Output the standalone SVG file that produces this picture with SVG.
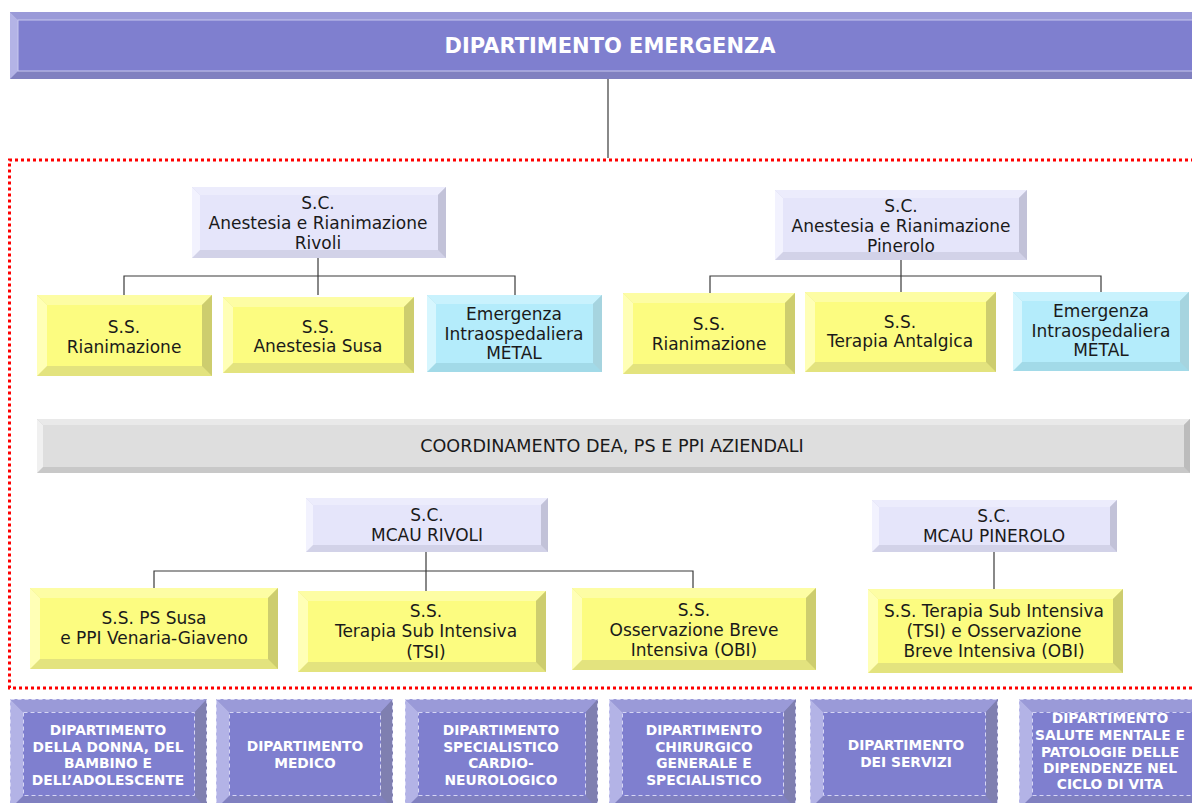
<svg xmlns="http://www.w3.org/2000/svg" width="1192" height="803" viewBox="0 0 1192 803">
<style>
text{font-family:"DejaVu Sans","Liberation Sans",sans-serif;text-anchor:middle;fill:#1a1a1a;font-size:17px}
.w{fill:#ffffff;font-weight:bold;font-size:13.8px}
.title{fill:#ffffff;font-weight:bold;font-size:21px}
.cb{font-size:17.6px}
.conn{stroke:#3a3a3a;stroke-width:1.2;fill:none}
.y .f{fill:#fcfc80}.y .t{fill:#fdfda4}.y .l{fill:#ffffb6}.y .r{fill:#cdcd6e}.y .b{fill:#e3e37e}
.c .f{fill:#b4ecfb}.c .t{fill:#c9f2fd}.c .l{fill:#d6f6fe}.c .r{fill:#a6d4df}.c .b{fill:#a2dae8}
.v .f{fill:#e5e5fa}.v .t{fill:#ececfc}.v .l{fill:#f2f2fe}.v .r{fill:#c2c2d8}.v .b{fill:#d2d2e8}
.g .f{fill:#dedede}.g .t{fill:#e9e9e9}.g .l{fill:#f0f0f0}.g .r{fill:#bcbcbc}.g .b{fill:#c8c8c8}
.p .f{fill:#7f7fcf}.p .t{fill:#9a9ad8}.p .l{fill:#b3b3e6}.p .r{fill:#7f7fb0}.p .b{fill:#8080c0}
.d{fill:none;stroke:#d6d6f4;stroke-width:1;stroke-dasharray:4 3}
</style>

<!-- top banner -->
<g id="dip-emergenza" class="p">
<rect class="b" x="10" y="12" width="1190" height="67"/>
<polygon class="t" points="10,12 1200,12 1192,20 18,20"/>
<polygon class="l" points="10,12 18,20 18,71 10,79"/>
<rect class="f" x="18" y="20" width="1182" height="51" stroke="#c8c8ee" stroke-width="1"/>
<text class="title" x="610" y="53">DIPARTIMENTO EMERGENZA</text>
</g>

<!-- red dotted frame -->
<path d="M1200,160 H9.5 V688 H1200" fill="none" stroke="#ff0000" stroke-width="3" stroke-dasharray="3 3"/>

<g id="connectors">
<path class="conn" d="M608,79 V158"/>
<path class="conn" d="M318,258 V295 M124,295 V276 H515 V295"/>
<path class="conn" d="M901,260 V292 M710,293 V276 H1101 V292"/>
<path class="conn" d="M426,552 V591 M154,588 V571 H693 V588"/>
<path class="conn" d="M994,552 V589"/>
</g>

<g id="sc-anestesia-rivoli" class="v">
<rect class="b" x="192" y="187" width="254" height="71"/>
<polygon class="t" points="192,187 446,187 438,195 200,195"/>
<polygon class="l" points="192,187 200,195 200,250 192,258"/>
<polygon class="r" points="446,187 446,258 438,250 438,195"/>
<rect class="f" x="200" y="195" width="238" height="55"/>
<text x="318" y="209">S.C.</text><text x="318" y="229">Anestesia e Rianimazione</text><text x="318" y="249">Rivoli</text>
</g>

<g id="sc-anestesia-pinerolo" class="v">
<rect class="b" x="775" y="190" width="252" height="70"/>
<polygon class="t" points="775,190 1027,190 1019,198 783,198"/>
<polygon class="l" points="775,190 783,198 783,252 775,260"/>
<polygon class="r" points="1027,190 1027,260 1019,252 1019,198"/>
<rect class="f" x="783" y="198" width="236" height="54"/>
<text x="901" y="212">S.C.</text><text x="901" y="232">Anestesia e Rianimazione</text><text x="901" y="252">Pinerolo</text>
</g>

<g id="ss-rianimazione-rivoli" class="y">
<rect class="b" x="37" y="295" width="175" height="81"/>
<polygon class="t" points="37,295 212,295 202,305 47,305"/>
<polygon class="l" points="37,295 47,305 47,366 37,376"/>
<polygon class="r" points="212,295 212,376 202,366 202,305"/>
<rect class="f" x="47" y="305" width="155" height="61"/>
<text x="124" y="333">S.S.</text><text x="124" y="353">Rianimazione</text>
</g>

<g id="ss-anestesia-susa" class="y">
<rect class="b" x="223" y="297" width="191" height="76"/>
<polygon class="t" points="223,297 414,297 404,307 233,307"/>
<polygon class="l" points="223,297 233,307 233,363 223,373"/>
<polygon class="r" points="414,297 414,373 404,363 404,307"/>
<rect class="f" x="233" y="307" width="171" height="56"/>
<text x="318" y="333">S.S.</text><text x="318" y="352">Anestesia Susa</text>
</g>

<g id="emergenza-rivoli" class="c">
<rect class="b" x="427" y="295" width="175" height="77"/>
<polygon class="t" points="427,295 602,295 593,304 436,304"/>
<polygon class="l" points="427,295 436,304 436,363 427,372"/>
<polygon class="r" points="602,295 602,372 593,363 593,304"/>
<rect class="f" x="436" y="304" width="157" height="59"/>
<text x="514" y="320">Emergenza</text><text x="514" y="340">Intraospedaliera</text><text x="514" y="359">METAL</text>
</g>

<g id="ss-rianimazione-pinerolo" class="y">
<rect class="b" x="623" y="293" width="172" height="81"/>
<polygon class="t" points="623,293 795,293 785,303 633,303"/>
<polygon class="l" points="623,293 633,303 633,364 623,374"/>
<polygon class="r" points="795,293 795,374 785,364 785,303"/>
<rect class="f" x="633" y="303" width="152" height="61"/>
<text x="709" y="330">S.S.</text><text x="709" y="350">Rianimazione</text>
</g>

<g id="ss-terapia-antalgica" class="y">
<rect class="b" x="805" y="292" width="191" height="80"/>
<polygon class="t" points="805,292 996,292 986,302 815,302"/>
<polygon class="l" points="805,292 815,302 815,362 805,372"/>
<polygon class="r" points="996,292 996,372 986,362 986,302"/>
<rect class="f" x="815" y="302" width="171" height="60"/>
<text x="900" y="328">S.S.</text><text x="900" y="347">Terapia Antalgica</text>
</g>

<g id="emergenza-pinerolo" class="c">
<rect class="b" x="1013" y="292" width="176" height="79"/>
<polygon class="t" points="1013,292 1189,292 1180,301 1022,301"/>
<polygon class="l" points="1013,292 1022,301 1022,362 1013,371"/>
<polygon class="r" points="1189,292 1189,371 1180,362 1180,301"/>
<rect class="f" x="1022" y="301" width="158" height="61"/>
<text x="1101" y="317">Emergenza</text><text x="1101" y="337">Intraospedaliera</text><text x="1101" y="356">METAL</text>
</g>

<g id="coordinamento" class="g">
<rect class="b" x="37" y="419" width="1153" height="54"/>
<polygon class="t" points="37,419 1190,419 1184,425 43,425"/>
<polygon class="l" points="37,419 43,425 43,467 37,473"/>
<polygon class="r" points="1190,419 1190,473 1184,467 1184,425"/>
<rect class="f" x="43" y="425" width="1141" height="42"/>
<text class="cb" x="612" y="452">COORDINAMENTO DEA, PS E PPI AZIENDALI</text>
</g>

<g id="sc-mcau-rivoli" class="v">
<rect class="b" x="306" y="498" width="242" height="54"/>
<polygon class="t" points="306,498 548,498 541,505 313,505"/>
<polygon class="l" points="306,498 313,505 313,545 306,552"/>
<polygon class="r" points="548,498 548,552 541,545 541,505"/>
<rect class="f" x="313" y="505" width="228" height="40"/>
<text x="427" y="521">S.C.</text><text x="427" y="541">MCAU RIVOLI</text>
</g>

<g id="sc-mcau-pinerolo" class="v">
<rect class="b" x="872" y="500" width="245" height="52"/>
<polygon class="t" points="872,500 1117,500 1110,507 879,507"/>
<polygon class="l" points="872,500 879,507 879,545 872,552"/>
<polygon class="r" points="1117,500 1117,552 1110,545 1110,507"/>
<rect class="f" x="879" y="507" width="231" height="38"/>
<text x="994" y="522">S.C.</text><text x="994" y="542">MCAU PINEROLO</text>
</g>

<g id="ss-ps-susa" class="y">
<rect class="b" x="30" y="588" width="248" height="81"/>
<polygon class="t" points="30,588 278,588 268,598 40,598"/>
<polygon class="l" points="30,588 40,598 40,659 30,669"/>
<polygon class="r" points="278,588 278,669 268,659 268,598"/>
<rect class="f" x="40" y="598" width="228" height="61"/>
<text x="154" y="624">S.S. PS Susa</text><text x="154" y="644">e PPI Venaria-Giaveno</text>
</g>

<g id="ss-tsi" class="y">
<rect class="b" x="298" y="591" width="248" height="81"/>
<polygon class="t" points="298,591 546,591 536,601 308,601"/>
<polygon class="l" points="298,591 308,601 308,662 298,672"/>
<polygon class="r" points="546,591 546,672 536,662 536,601"/>
<rect class="f" x="308" y="601" width="228" height="61"/>
<text x="426" y="617">S.S.</text><text x="426" y="637">Terapia Sub Intensiva</text><text x="426" y="658">(TSI)</text>
</g>

<g id="ss-obi" class="y">
<rect class="b" x="572" y="588" width="244" height="82"/>
<polygon class="t" points="572,588 816,588 806,598 582,598"/>
<polygon class="l" points="572,588 582,598 582,660 572,670"/>
<polygon class="r" points="816,588 816,670 806,660 806,598"/>
<rect class="f" x="582" y="598" width="224" height="62"/>
<text x="694" y="616">S.S.</text><text x="694" y="636">Osservazione Breve</text><text x="694" y="656">Intensiva (OBI)</text>
</g>

<g id="ss-tsi-obi" class="y">
<rect class="b" x="868" y="589" width="255" height="84"/>
<polygon class="t" points="868,589 1123,589 1113,599 878,599"/>
<polygon class="l" points="868,589 878,599 878,663 868,673"/>
<polygon class="r" points="1123,589 1123,673 1113,663 1113,599"/>
<rect class="f" x="878" y="599" width="235" height="64"/>
<text x="994" y="617">S.S. Terapia Sub Intensiva</text><text x="994" y="637">(TSI) e Osservazione</text><text x="994" y="657">Breve Intensiva (OBI)</text>
</g>

<!-- bottom departments -->
<g id="dip-donna" class="p">
<rect class="b" x="10" y="699" width="197" height="110"/>
<polygon class="t" points="10,699 207,699 195,712 23,712"/>
<polygon class="l" points="10,699 23,712 23,796 10,809"/>
<polygon class="r" points="207,699 207,809 195,796 195,712"/>
<rect class="f" x="23" y="712" width="172" height="84"/>
<rect class="d" x="10.5" y="699.5" width="196" height="110"/><rect class="d" x="23.5" y="712.5" width="171" height="83"/>
<text class="w" x="108" y="735">DIPARTIMENTO</text><text class="w" x="108" y="752">DELLA DONNA, DEL</text><text class="w" x="108" y="768">BAMBINO E</text><text class="w" x="108" y="785">DELL’ADOLESCENTE</text>
</g>

<g id="dip-medico" class="p">
<rect class="b" x="216" y="699" width="177" height="110"/>
<polygon class="t" points="216,699 393,699 381,712 229,712"/>
<polygon class="l" points="216,699 229,712 229,796 216,809"/>
<polygon class="r" points="393,699 393,809 381,796 381,712"/>
<rect class="f" x="229" y="712" width="152" height="84"/>
<rect class="d" x="216.5" y="699.5" width="176" height="110"/><rect class="d" x="229.5" y="712.5" width="151" height="83"/>
<text class="w" x="305" y="751">DIPARTIMENTO</text><text class="w" x="305" y="768">MEDICO</text>
</g>

<g id="dip-cardio" class="p">
<rect class="b" x="405" y="699" width="193" height="110"/>
<polygon class="t" points="405,699 598,699 586,712 418,712"/>
<polygon class="l" points="405,699 418,712 418,796 405,809"/>
<polygon class="r" points="598,699 598,809 586,796 586,712"/>
<rect class="f" x="418" y="712" width="168" height="84"/>
<rect class="d" x="405.5" y="699.5" width="192" height="110"/><rect class="d" x="418.5" y="712.5" width="167" height="83"/>
<text class="w" x="501" y="735">DIPARTIMENTO</text><text class="w" x="501" y="752">SPECIALISTICO</text><text class="w" x="501" y="768">CARDIO-</text><text class="w" x="501" y="785">NEUROLOGICO</text>
</g>

<g id="dip-chirurgico" class="p">
<rect class="b" x="609" y="699" width="187" height="110"/>
<polygon class="t" points="609,699 796,699 784,712 622,712"/>
<polygon class="l" points="609,699 622,712 622,796 609,809"/>
<polygon class="r" points="796,699 796,809 784,796 784,712"/>
<rect class="f" x="622" y="712" width="162" height="84"/>
<rect class="d" x="609.5" y="699.5" width="186" height="110"/><rect class="d" x="622.5" y="712.5" width="161" height="83"/>
<text class="w" x="704" y="735">DIPARTIMENTO</text><text class="w" x="704" y="752">CHIRURGICO</text><text class="w" x="704" y="768">GENERALE E</text><text class="w" x="704" y="785">SPECIALISTICO</text>
</g>

<g id="dip-servizi" class="p">
<rect class="b" x="810" y="699" width="188" height="110"/>
<polygon class="t" points="810,699 998,699 986,712 823,712"/>
<polygon class="l" points="810,699 823,712 823,796 810,809"/>
<polygon class="r" points="998,699 998,809 986,796 986,712"/>
<rect class="f" x="823" y="712" width="163" height="84"/>
<rect class="d" x="810.5" y="699.5" width="187" height="110"/><rect class="d" x="823.5" y="712.5" width="162" height="83"/>
<text class="w" x="906" y="750">DIPARTIMENTO</text><text class="w" x="906" y="767">DEI SERVIZI</text>
</g>

<g id="dip-salute-mentale" class="p">
<rect class="b" x="1019" y="699" width="186" height="110"/>
<polygon class="t" points="1019,699 1205,699 1193,712 1032,712"/>
<polygon class="l" points="1019,699 1032,712 1032,796 1019,809"/>
<polygon class="r" points="1205,699 1205,809 1193,796 1193,712"/>
<rect class="f" x="1032" y="712" width="161" height="84"/>
<rect class="d" x="1019.5" y="699.5" width="185" height="110"/><rect class="d" x="1032.5" y="712.5" width="160" height="83"/>
<text class="w" x="1110" y="723">DIPARTIMENTO</text><text class="w" x="1110" y="740">SALUTE MENTALE E</text><text class="w" x="1110" y="757">PATOLOGIE DELLE</text><text class="w" x="1110" y="773">DIPENDENZE NEL</text><text class="w" x="1110" y="789">CICLO DI VITA</text>
</g>
</svg>
